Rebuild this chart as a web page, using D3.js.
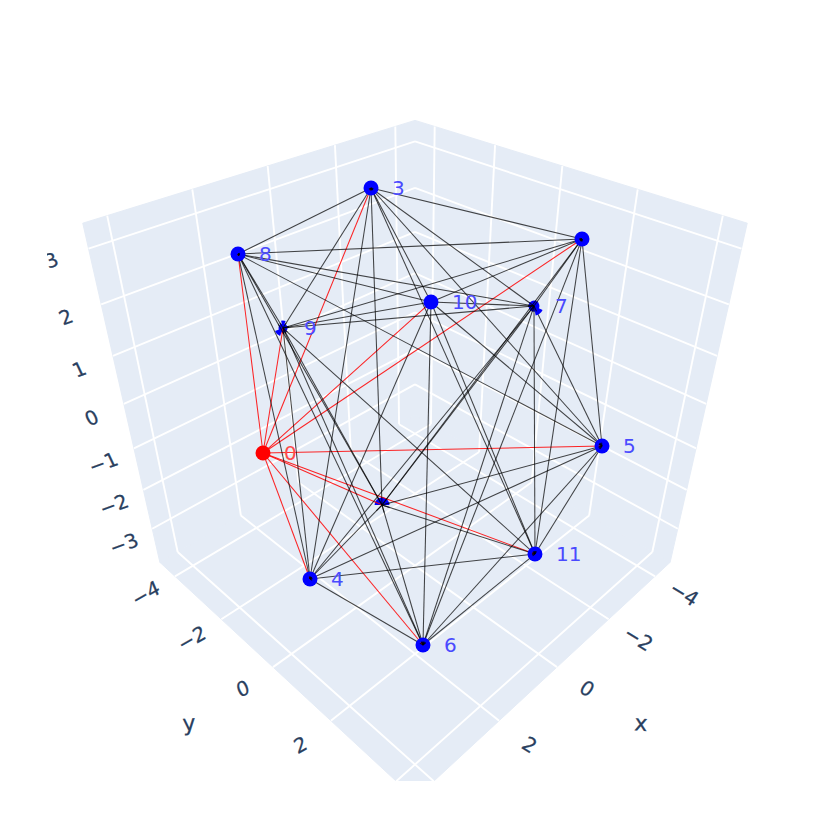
<!DOCTYPE html>
<html>
<head>
<meta charset="utf-8">
<script src="https://cdn.jsdelivr.net/npm/d3@7"></script>
<style>html,body{margin:0;padding:0;background:#fff}svg{display:block}</style>
</head>
<body>
<svg id="chart" width="831" height="831"></svg>
<script>
// ---- data ----
const nodeIds = [0,1,2,3,4,5,6,7,8,9,10,11];
const nodeX = [3.712,-4.016,-0.846,-1.030,2.914,-1.149,1.800,-4.656,1.495,0.039,1.280,-1.001];
const nodeY = [-0.596,1.203,-2.117,-2.389,-0.520,4.151,2.058,-0.419,-4.036,-4.662,1.687,2.923];
const nodeZ = [0.320,2.496,-3.749,3.297,-2.923,0.412,-3.771,0.478,2.280,0.118,2.986,-2.548];
const nodeLabels = ["0","","","3","4","5","6","7","8","9","10","11"];
const neighbours = [
  [1,2,3,4,5,6,8,9,10,11],
  [2,3,5,6,7,8,9,10,11],
  [3,4,5,6,7,8,9,11],
  [4,5,7,8,9,10,11],
  [5,6,7,8,9,10,11],
  [6,7,8,10,11],
  [7,8,9,10,11],
  [8,9,10,11],
  [9,10],
  [10,11],
  [11]
];
const highlightNode = 0;
const xDomain = [-4.7,4.53], yDomain = [-4.7,4.53], zDomain = [-3.92,3.43];
const xGrid = [-4,-2,0,2,4], yGrid = [-4,-2,0,2,4], zGrid = [-3,-2,-1,0,1,2,3];
const xTickLabels = [-4,-2,0,2], yTickLabels = [-4,-2,0,2], zTickLabels = [-3,-2,-1,0,1,2,3];

// ---- camera ----
const F = 898, camDist = 4.4, S3 = Math.sqrt(3), S2 = Math.SQRT2, S6 = Math.sqrt(6);
const xs = d3.scaleLinear().domain(xDomain).range([-1,1]);
const ys = d3.scaleLinear().domain(yDomain).range([-1,1]);
const zs = d3.scaleLinear().domain(zDomain).range([-1,1]);
const screenX = d3.scaleLinear().domain([0,1]).range([415,415+F]);
const screenY = d3.scaleLinear().domain([0,1]).range([415,415-F]);
function proj(u,v,w){
  const X = (v-u)/S2, Y = (2*w-u-v)/S6, D = camDist-(u+v+w)/S3;
  return [screenX(X/D), screenY(Y/D)];
}
const line = d3.line();
const svg = d3.select("#chart");
const defs = svg.append("defs");
defs.append("clipPath").attr("id","scene").append("rect")
  .attr("x",47).attr("y",0).attr("width",784).attr("height",781);
const root = svg.append("g").attr("clip-path","url(#scene)");

// ---- walls ----
const GRID = "#ffffff", WALL = "#e5ecf6";
const walls = [
  [[1,-1,-1],[-1,-1,-1],[-1,1,-1],[1,1,-1]],
  [[1,-1,-1],[-1,-1,-1],[-1,-1,1],[1,-1,1]],
  [[-1,1,-1],[-1,-1,-1],[-1,-1,1],[-1,1,1]]
];
root.append("g").selectAll("path").data(walls).join("path")
  .attr("d",w=>line.curve(d3.curveLinearClosed)(w.map(p=>proj(...p))))
  .attr("fill",WALL).attr("stroke",WALL).attr("stroke-width",1);
line.curve(d3.curveLinear);

const gridLines = [];
xGrid.forEach(t=>{const u=xs(t);
  gridLines.push([[u,-1,-1],[u,1,-1]]);
  gridLines.push([[u,-1,-1],[u,-1,1]]);
});
yGrid.forEach(t=>{const v=ys(t);
  gridLines.push([[-1,v,-1],[1,v,-1]]);
  gridLines.push([[-1,v,-1],[-1,v,1]]);
});
zGrid.forEach(t=>{const w=zs(t);
  gridLines.push([[1,-1,w],[-1,-1,w]]);
  gridLines.push([[-1,-1,w],[-1,1,w]]);
});
root.append("g").selectAll("path").data(gridLines).join("path")
  .attr("d",l=>line(l.map(p=>proj(...p))))
  .attr("fill","none").attr("stroke",GRID).attr("stroke-width",1.9);

// ---- tick labels ----
const fmt = d3.format("d");
const FONT = "'DejaVu Sans',sans-serif";
const tickStyle = s=>s.attr("text-anchor","middle").attr("dominant-baseline","central")
  .attr("font-family",FONT).attr("fill","#2a3f5f").attr("stroke","#2a3f5f").attr("stroke-width",.25);
function placed(sel,pos,m){
  sel.attr("transform",d=>{const p=pos(d);
    return `translate(${p[0]},${p[1]}) matrix(${m.join(",")},0,0)`;});
}
const tg = root.append("g").attr("font-size",20);
tg.selectAll(".ty").data(yTickLabels).join("text").attr("class","ty").call(tickStyle)
  .text(d=>fmt(d)).call(placed,d=>proj(1.18,ys(d),-1),[.866,-.5,.38,.92]);
tg.selectAll(".tx").data(xTickLabels).join("text").attr("class","tx").call(tickStyle)
  .text(d=>fmt(d)).call(placed,d=>proj(xs(d),1.18,-1),[.85,.52,-.55,.85]);
tg.selectAll(".tz").data(zTickLabels).join("text").attr("class","tz").call(tickStyle)
  .text(d=>fmt(d)).call(placed,d=>proj(1.17,-1,zs(d)),[.92,-.33,.42,.9]);
tg.append("text").call(tickStyle).attr("font-size",22).text("y")
  .attr("transform",()=>{const p=proj(1.47,0,-1);return `translate(${p[0]},${p[1]}) rotate(-4)`;});
tg.append("text").call(tickStyle).attr("font-size",22).text("x")
  .attr("transform",()=>{const p=proj(0,1.47,-1);return `translate(${p[0]},${p[1]}) rotate(4)`;});

// ---- graph ----
const pts = nodeIds.map(i=>proj(xs(nodeX[i]),ys(nodeY[i]),zs(nodeZ[i])));
const edges = neighbours.flatMap((list,i)=>list.map(j=>[i,j]));
const NODE = "#0000ff", HI = "#ff0000";
const edgeColor = e=>(e[0]===highlightNode||e[1]===highlightNode)?HI:"#000";
const drawEdges = g=>g.selectAll("path").data(edges).join("path")
  .attr("d",e=>line([pts[e[0]],pts[e[1]]]))
  .attr("fill","none").attr("stroke",edgeColor).attr("stroke-width",1.05)
  .attr("stroke-opacity",e=>edgeColor(e)===HI?.85:.72);
root.append("g").call(drawEdges);

// nodes 2, 7 and 9 are only partly visible in the reference
const partial = {
  2:[[7.5,-90,90]],
  7:[[5.5,0,360],[9.5,115,170]],
  9:[[4.5,0,360],[8.5,200,250],[7.5,-15,20]]
};
const arc = d3.arc().innerRadius(0);
const rad = d=>d*Math.PI/180;
const nodeG = root.append("g");
nodeIds.forEach(i=>{
  const g = nodeG.append("g").attr("transform",`translate(${pts[i][0]},${pts[i][1]})`);
  const col = i===highlightNode?HI:NODE;
  if(partial[i]) partial[i].forEach(a=>g.append("path")
      .attr("d",arc({outerRadius:a[0],startAngle:rad(a[1]),endAngle:rad(a[2])})).attr("fill",col));
  else g.append("circle").attr("r",7.5).attr("fill",col);
});

// edges show through the middle of most markers
const coreR = {1:2.5,2:8,3:2.5,4:2.5,5:3.5,6:3.5,7:6,8:2,9:6,11:3};
const cp = defs.append("clipPath").attr("id","cores");
Object.keys(coreR).forEach(i=>cp.append("circle")
  .attr("cx",pts[i][0]).attr("cy",pts[i][1]).attr("r",coreR[i]));
root.append("g").attr("clip-path","url(#cores)").call(drawEdges);

// ---- node labels ----
root.append("g").selectAll("text").data(nodeIds).join("text")
  .text(i=>nodeLabels[i])
  .attr("x",i=>pts[i][0]+21).attr("y",i=>pts[i][1])
  .attr("dominant-baseline","central")
  .attr("font-family",FONT).attr("font-size",20)
  .attr("fill",i=>i===highlightNode?"#ff4a4a":"#4a4aff");
</script>
</body>
</html>
